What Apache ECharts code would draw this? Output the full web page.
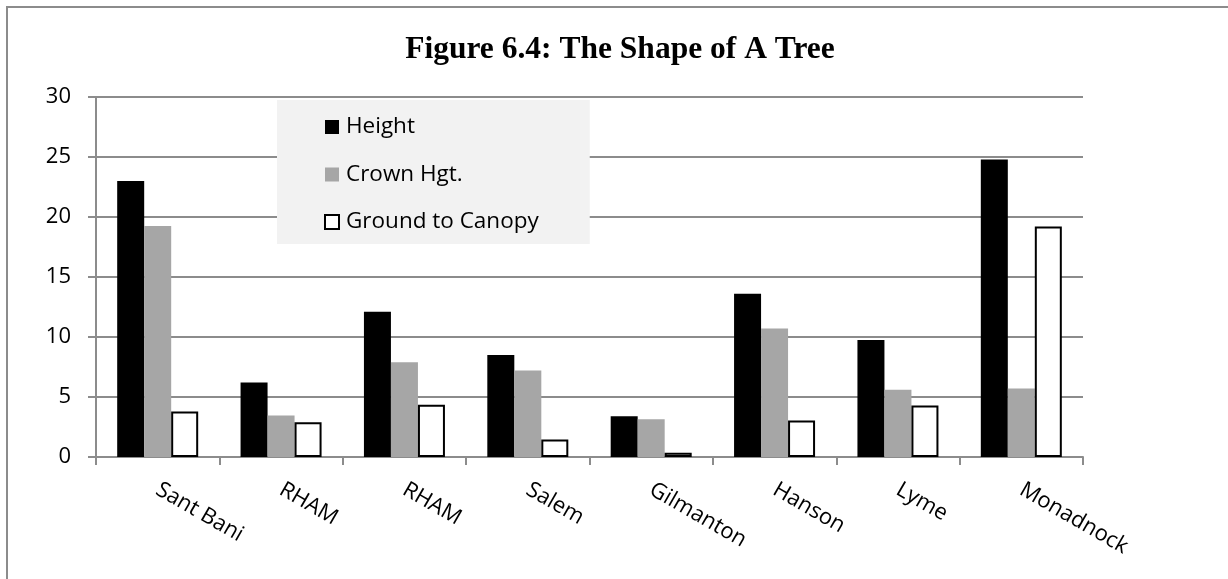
<!DOCTYPE html>
<html>
<head>
<meta charset="utf-8">
<script src="https://cdn.jsdelivr.net/npm/echarts@6/dist/echarts.min.js"></script>
<style>
  html, body { margin: 0; padding: 0; background: #ffffff; }
  #chart { width: 1228px; height: 579px; }
</style>
</head>
<body>
<div id="chart"></div>
<script>
// Sites sampled, left to right
const categories = ['Sant Bani', 'RHAM', 'RHAM', 'Salem', 'Gilmanton', 'Hanson', 'Lyme', 'Monadnock'];

// Mean measurements per site
const heightValues = [23.0, 6.2, 12.1, 8.5, 3.4, 13.6, 9.75, 24.8];
const crownValues  = [19.25, 3.45, 7.9, 7.2, 3.15, 10.7, 5.6, 5.7];
const groundValues = [3.8, 2.9, 4.35, 1.45, 0.35, 3.05, 4.3, 19.2];

const yTicks = { min: 0, max: 30, interval: 5 };

const labelFont = '"Open Sans", "Noto Sans", sans-serif';
const gridGrey = '#8c8c8c';

const chart = echarts.init(document.getElementById('chart'), null, { renderer: 'canvas' });

chart.setOption({
  backgroundColor: '#ffffff',
  animation: false,
  graphic: [{
    type: 'rect',
    shape: { x: 7, y: 7, width: 1300, height: 700 },
    style: { fill: 'none', stroke: gridGrey, lineWidth: 2 },
    silent: true,
    z: -1
  }],
  title: {
    text: 'Figure 6.4: The Shape of A Tree',
    left: 620,
    textAlign: 'center',
    top: 34,
    padding: 0,
    textStyle: {
      fontFamily: '"Liberation Serif", "DejaVu Serif", serif',
      fontWeight: 'bold',
      fontSize: 31.5,
      color: '#000000'
    }
  },
  legend: {
    orient: 'vertical',
    left: 277,
    top: 100,
    padding: [15, 51, 10, 47],
    backgroundColor: '#f2f2f2',
    itemWidth: 14,
    itemHeight: 14,
    itemGap: 23.5,
    icon: 'rect',
    textStyle: {
      fontFamily: labelFont,
      fontSize: 22.5,
      lineHeight: 24,
      color: '#000000',
      padding: [0, 0, 0, 2]
    },
    data: ['Height', 'Crown Hgt.', 'Ground to Canopy']
  },
  grid: {
    left: 96,
    top: 97,
    right: 145,
    bottom: 122,
    containLabel: false
  },
  xAxis: {
    type: 'category',
    data: categories,
    axisLine: { show: true, lineStyle: { color: gridGrey, width: 2 } },
    axisTick: { show: true, length: 8, lineStyle: { color: gridGrey, width: 2 } },
    axisLabel: {
      rotate: -30,
      margin: 31,
      interval: 0,
      fontFamily: labelFont,
      fontSize: 22,
      color: '#000000'
    },
    splitLine: { show: false }
  },
  yAxis: {
    type: 'value',
    min: yTicks.min,
    max: yTicks.max,
    interval: yTicks.interval,
    axisLine: { show: true, lineStyle: { color: gridGrey, width: 2 } },
    axisTick: { show: true, length: 8, lineStyle: { color: gridGrey, width: 2 } },
    axisLabel: {
      margin: 25,
      fontFamily: labelFont,
      fontSize: 22,
      color: '#000000'
    },
    splitLine: { show: true, lineStyle: { color: gridGrey, width: 2 } }
  },
  series: [
    {
      name: 'Height',
      type: 'bar',
      data: heightValues,
      barWidth: 27,
      barGap: '0%',
      itemStyle: { color: '#000000' }
    },
    {
      name: 'Crown Hgt.',
      type: 'bar',
      data: crownValues,
      barWidth: 27,
      barGap: '0%',
      itemStyle: { color: '#a6a6a6' }
    },
    {
      name: 'Ground to Canopy',
      type: 'bar',
      data: groundValues,
      barWidth: 27,
      barGap: '0%',
      itemStyle: { color: '#ffffff', borderColor: '#000000', borderWidth: 2 }
    }
  ]
});
</script>
</body>
</html>
